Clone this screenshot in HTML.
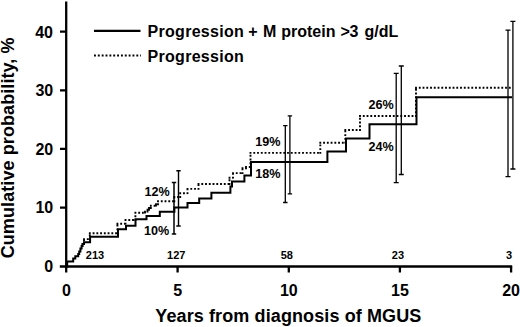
<!DOCTYPE html>
<html><head><meta charset="utf-8"><style>
html,body{margin:0;padding:0;background:#fff;}
body{width:520px;height:327px;overflow:hidden;}
svg{display:block;}
text{font-family:"Liberation Sans",sans-serif;font-weight:bold;fill:#000;}
</style></head><body>
<svg width="520" height="327" viewBox="0 0 520 327">
<rect x="0" y="0" width="520" height="327" fill="#fff"/>
<!-- axes -->
<g stroke="#000" stroke-width="2.3" fill="none" stroke-linecap="butt">
<path d="M66.2,1.5 V272.5"/>
<path d="M59.8,266.5 H512.2"/>
<path d="M60,207.6 H66.3 M60,148.9 H66.3 M60,90.3 H66.3 M60,31.6 H66.3"/>
<path d="M177.6,266.5 V272.4 M288.8,266.5 V272.4 M399.9,266.5 V272.4 M511.1,266.5 V272.4"/>
</g>
<!-- y tick labels -->
<g font-size="16" text-anchor="end">
<text x="53" y="37.5">40</text>
<text x="53.2" y="96">30</text>
<text x="53.2" y="154.5">20</text>
<text x="53.2" y="213">10</text>
<text x="53.2" y="271.8">0</text>
</g>
<!-- x tick labels -->
<g font-size="16" text-anchor="middle">
<text x="66.5" y="296.1">0</text>
<text x="177.6" y="296.1">5</text>
<text x="288.8" y="296.1">10</text>
<text x="399.9" y="296.1">15</text>
<text x="511.1" y="296.1">20</text>
</g>
<!-- axis titles -->
<text x="155.3" y="322.1" font-size="18" letter-spacing="0.11">Years from diagnosis of MGUS</text>
<text transform="translate(14.3,258.3) rotate(-90)" font-size="18" letter-spacing="0.09">Cumulative probability, %</text>
<!-- legend -->
<path d="M94,30.8 H140.5" stroke="#000" stroke-width="2.2"/>
<path d="M94,55.6 H141" stroke="#000" stroke-width="2" stroke-dasharray="1.9 1.95"/>
<text y="37.2" font-size="16"><tspan x="147.5" letter-spacing="0.3">Progression</tspan><tspan x="248.2">+</tspan><tspan x="263">M</tspan><tspan x="281.2">protein</tspan><tspan x="340.6" letter-spacing="-0.5">&gt;3</tspan><tspan x="364.6">g/dL</tspan></text>
<text x="147.5" y="61.9" font-size="16" letter-spacing="0.3">Progression</text>
<!-- number at risk -->
<g font-size="11" text-anchor="middle">
<text x="95" y="258.6">213</text>
<text x="176.2" y="258.6">127</text>
<text x="286.8" y="258.6">58</text>
<text x="397.9" y="258.6">23</text>
<text x="509" y="258.6">3</text>
</g>
<!-- percent labels -->
<g font-size="12.6" text-anchor="start">
<text x="144.4" y="196.1">12%</text>
<text x="144.1" y="234.7">10%</text>
<text x="255.2" y="146.4">19%</text>
<text x="255.2" y="178.3">18%</text>
<text x="368.4" y="109.4">26%</text>
<text x="368.4" y="151.2">24%</text>
</g>
<!-- solid curve -->
<path fill="none" stroke="#000" stroke-width="2" d="M66.3,266.5 H67.2 V261.5 H73.2 V258.4 H75.3 V256.2 H78.2 V254 H79.2 V251.5 H80.4 V248.5 H81.6 V246 H82.6 V244 H84 V242.2 H90.1 V236.7 H118 V229.2 H126 V225.8 H135.5 V219.3 H146.5 V215.9 H159.8 V211.8 H174.4 V207.5 H187.5 V203.1 H199.2 V198.5 H211.4 V192.8 H230.4 V186.6 H232 V181.5 H244.4 V175.4 H251 V162.1 H327.4 V151.5 H346 V138.5 H369.5 V124.2 H416.5 V97.2 H512"/>
<!-- dotted curve -->
<path fill="none" stroke="#000" stroke-width="1.9" stroke-dasharray="1.85 1.9" d="M81.68,244H84 M84,244.92V239.1 M83.08,239.1H89.8 M89.8,240.02V233.2 M88.88,233.2H117.4 M117.4,234.12V223.7 M116.48,223.7H125.5 M125.5,224.62V220 M124.58,220H135.4 M135.4,220.92V212.7 M134.48,212.7H145 M145,213.62V211.6 M144.08,211.6H147.5 M147.5,212.52V209.8 M146.58,209.8H149 M149,210.72V208 M148.08,208H150.8 M150.8,208.92V205.7 M149.88,205.7H156 M156,206.62V204.3 M155.08,204.3H158 M158,205.22V201.3 M157.08,201.3H174.3 M174.3,202.22V197 M173.38,197H180.2 M180.2,197.92V193.2 M179.28,193.2H187.5 M187.5,194.12V188.9 M186.58,188.9H198.5 M198.5,189.82V184 M197.58,184H229.5 M229.5,184.92V177.7 M228.58,177.7H233 M233,178.62V173.1 M232.08,173.1H242.5 M242.5,174.02V168.3 M241.58,168.3H246 M246,169.22V167 M245.08,167H250.5 M250.5,167.92V152.9 M249.58,152.9H320.3 M320.3,153.82V142.7 M319.38,142.7H345.3 M345.3,143.62V130 M344.38,130H360 M360,130.92V116 M359.08,116H416 M416,116.92V87.7 M415.08,87.7H512"/>
<!-- error bars -->
<g stroke="#000" stroke-width="1.3" fill="none">
<path d="M174,182.4 V234 M171.8,182.4 H176.2 M171.8,234 H176.2" stroke-width="1.5"/>
<path d="M178.5,170.8 V226 M176.3,170.8 H180.7 M176.3,226 H180.7" stroke-width="1.4"/>
<path d="M285.3,125.7 V202.5 M283.1,125.7 H287.5 M283.1,202.5 H287.5"/>
<path d="M289.9,115.9 V193.9 M287.7,115.9 H292.1 M287.7,193.9 H292.1"/>
<path d="M396.2,73.3 V182.6 M393.7,73.3 H398.7 M393.7,182.6 H398.7"/>
<path d="M401.3,66 V174.5 M398.8,66 H403.8 M398.8,174.5 H403.8"/>
<path d="M508,30.1 V176.6 M505.5,30.1 H510.5 M505.5,176.6 H510.5"/>
<path d="M512.9,21.4 V169 M510.4,21.4 H515.4 M510.4,169 H515.4"/>
</g>
</svg>
</body></html>
